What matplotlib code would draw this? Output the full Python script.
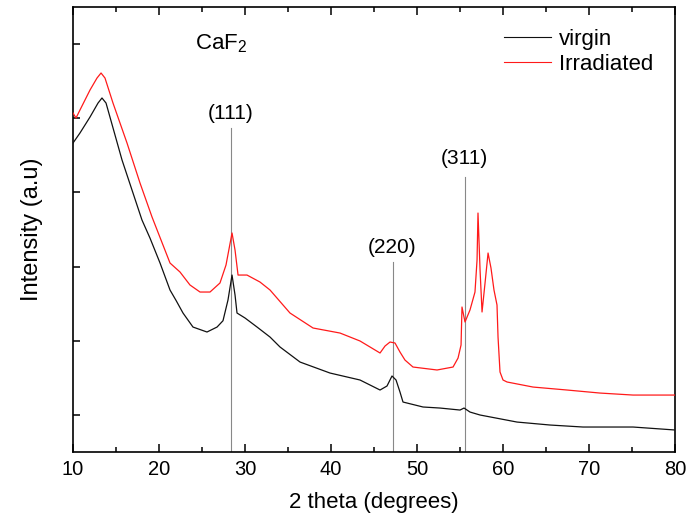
import numpy as np
import matplotlib
matplotlib.use("Agg")
import matplotlib.pyplot as plt
from matplotlib.ticker import MultipleLocator, NullFormatter

plt.rcParams['font.family'] = ['Liberation Sans', 'DejaVu Sans']
plt.rcParams['mathtext.fontset'] = 'custom'
plt.rcParams['mathtext.rm'] = 'Liberation Sans'
plt.rcParams['mathtext.it'] = 'Liberation Sans'

# values (2theta in degrees, intensity in arbitrary units)
virgin_x = [10.0, 10.81, 11.98, 12.91, 13.37, 13.84, 15.70, 18.02, 18.95, 20.12,
            21.28, 22.0, 22.79, 23.95, 25.58, 26.75, 27.44, 28.02, 28.49, 28.84, 29.07,
            30.0, 31.40, 32.91, 34.07, 36.40, 39.88, 43.37, 45.70, 46.51, 47.09,
            47.56, 48.02, 48.37, 50.70, 52.67, 55.0, 55.47, 56.16, 57.33, 61.63,
            65.47, 69.30, 75.12, 80.0]
virgin_y = [3.666, 3.801, 4.017, 4.205, 4.273, 4.205, 3.437, 2.628, 2.385, 2.048,
            1.684, 1.540, 1.374, 1.185, 1.118, 1.185, 1.270, 1.549, 1.886, 1.617, 1.374,
            1.307, 1.185, 1.050, 0.916, 0.713, 0.565, 0.471, 0.336, 0.390, 0.525,
            0.471, 0.309, 0.174, 0.107, 0.093, 0.066, 0.093, 0.039, -0.001, -0.096,
            -0.136, -0.163, -0.163, -0.203]

irr_x = [10.0, 10.35, 10.81, 11.98, 12.79, 13.26, 13.72, 14.65, 16.28, 17.79,
         19.19, 21.28, 22.44, 23.60, 24.77, 25.93, 27.09, 27.79, 28.49, 28.84,
         29.19, 30.23, 31.74, 32.91, 35.23, 37.91, 41.05, 43.37, 45.70, 46.28,
         46.86, 47.44, 48.02, 48.60, 49.53, 52.33, 54.19, 54.77, 55.12, 55.23,
         55.58, 56.16, 56.74, 56.98, 57.09, 57.33, 57.56, 57.91, 58.26, 58.60,
         58.95, 59.30, 59.42, 59.65, 60.0, 60.47, 63.49, 67.44, 71.28, 75.12, 80.0]
irr_y = [4.071, 4.003, 4.111, 4.381, 4.542, 4.610, 4.542, 4.205, 3.666, 3.127,
         2.668, 2.048, 1.927, 1.752, 1.657, 1.657, 1.779, 2.021, 2.453, 2.223,
         1.886, 1.886, 1.792, 1.684, 1.374, 1.172, 1.104, 0.997, 0.835, 0.929,
         0.983, 0.970, 0.848, 0.740, 0.646, 0.606, 0.646, 0.767, 0.943, 1.455,
         1.253, 1.415, 1.657, 2.089, 2.722, 1.954, 1.388, 1.779, 2.183, 1.981,
         1.684, 1.482, 1.050, 0.579, 0.471, 0.444, 0.376, 0.336, 0.295, 0.268, 0.268]

peak_pos = [28.4, 47.15, 55.6]
peak_top = [3.87, 2.06, 3.21]
peak_labels = ['(111)', '(220)', '(311)']
label_y = [4.07, 2.26, 3.46]

fig = plt.figure(figsize=(6.9, 5.25), dpi=100)
ax = fig.add_axes([0.1058, 0.139, 0.8725, 0.8477])

for xp, top, lab, ly in zip(peak_pos, peak_top, peak_labels, label_y):
    ax.plot([xp, xp], [-0.5, top], color='#888888', lw=0.8, zorder=1)
    ax.text(xp - 0.1, ly, lab, ha='center', va='center', fontsize=15)

ax.plot(virgin_x, virgin_y, color='#111111', lw=0.9, label='virgin', zorder=3)
ax.plot(irr_x, irr_y, color='#ff1a1a', lw=0.9, label='Irradiated', zorder=3)

ax.text(27.2, 5.0, 'CaF$_2$', ha='center', va='center', fontsize=16)

ax.set_xlim(10, 80)
ax.set_ylim(-0.5, 5.5)
ax.xaxis.set_major_locator(MultipleLocator(10))
ax.xaxis.set_minor_locator(MultipleLocator(5))
ax.yaxis.set_major_locator(MultipleLocator(1))
ax.yaxis.set_major_formatter(NullFormatter())
ax.tick_params(axis='x', which='both', direction='in', top=True, labelsize=14.5, pad=6)
ax.tick_params(axis='x', which='major', length=6, width=1.1)
ax.tick_params(axis='x', which='minor', length=3.5, width=1.1)
ax.tick_params(axis='y', which='major', direction='in', length=5, width=1.1, right=False)
for s in ax.spines.values():
    s.set_linewidth(1.2)

ax.set_xlabel('2 theta (degrees)', fontsize=16, labelpad=9)
ax.set_ylabel('Intensity (a.u)', fontsize=17, labelpad=18)

leg = ax.legend(loc='upper right', frameon=False, fontsize=16, handlelength=2.15,
                handletextpad=0.35, labelspacing=0.15, borderaxespad=0.3,
                bbox_to_anchor=(0.99, 0.985))
for h in leg.get_lines():
    h.set_linewidth(0.8)

fig.savefig('out.png', dpi=100)
